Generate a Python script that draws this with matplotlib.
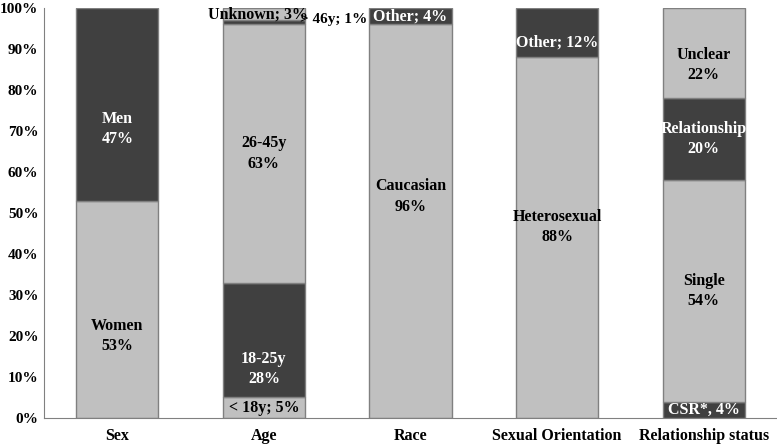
import matplotlib
matplotlib.use('Agg')
from matplotlib import pyplot as plt
from matplotlib.ticker import PercentFormatter

plt.rcParams['font.family'] = ['Liberation Serif', 'DejaVu Serif']
plt.rcParams['font.weight'] = 'bold'

# Data
categories = ['Sex', 'Age', 'Race', 'Sexual Orientation', 'Relationship status']
seg_values = [
    [53, 47],
    [5, 28, 63, 1, 3],
    [96, 4],
    [88, 12],
    [4, 54, 20, 22],
]
seg_labels = [
    ['Women\n53%', 'Men\n47%'],
    ['< 18y; 5%', '18-25y\n28%', '26-45y\n63%', '> 46y; 1%', 'Unknown; 3%'],
    ['Caucasian\n96%', 'Other; 4%'],
    ['Heterosexual\n88%', 'Other; 12%'],
    ['CSR*, 4%', 'Single\n54%', 'Relationship\n20%', 'Unclear\n22%'],
]
seg_dark = [
    [False, True],
    [False, True, False, True, False],
    [False, True],
    [False, True],
    [True, False, True, False],
]

light = '#c0c0c0'
dark = '#404040'

# label offsets from the segment centre (percentage points), x offsets in bar units
label_dy = {(0, 0): -6.5, (0, 1): -6, (1, 1): -7, (1, 3): 0.8, (1, 4): 0,
            (2, 0): 6, (3, 0): 2.5, (3, 1): -2.5, (4, 3): -3}
label_dx = {(1, 3): 0.475, (1, 4): -0.04}

fig = plt.figure(figsize=(7.77, 4.46), dpi=100)
ax = fig.add_axes([0.0566, 0.0628, 0.9434, 0.9193])

width = 0.56
for i, vals in enumerate(seg_values):
    bottom = 0
    for j, v in enumerate(vals):
        is_dark = seg_dark[i][j]
        ax.bar(i, v, width, bottom=bottom, color=dark if is_dark else light,
               edgecolor='#808080', linewidth=1)
        y = bottom + v / 2 + label_dy.get((i, j), 0)
        x = i + label_dx.get((i, j), 0)
        col = 'white' if is_dark else 'black'
        size = 11.5
        if (i, j) == (1, 3):
            col = 'black'  # sits outside the bar
            size = 11
        ax.text(x, y, seg_labels[i][j], ha='center', va='center',
                color=col, fontsize=size, fontweight='bold', linespacing=1.35)
        bottom += v

ax.set_xlim(-0.5, 4.5)
ax.set_ylim(0, 100)
ax.set_xticks(range(len(categories)))
ax.set_xticklabels(categories, fontsize=11.5, fontweight='bold')
ax.set_yticks(range(0, 101, 10))
ax.yaxis.set_major_formatter(PercentFormatter(decimals=0))
ax.tick_params(axis='both', length=0)
ax.tick_params(axis='x', pad=7, labelsize=11.5)
ax.tick_params(axis='y', pad=4, labelsize=11)
for side in ['top', 'right']:
    ax.spines[side].set_visible(False)
ax.spines['left'].set_color('#808080')
ax.spines['bottom'].set_color('#808080')

fig.savefig('out.png', dpi=100)
